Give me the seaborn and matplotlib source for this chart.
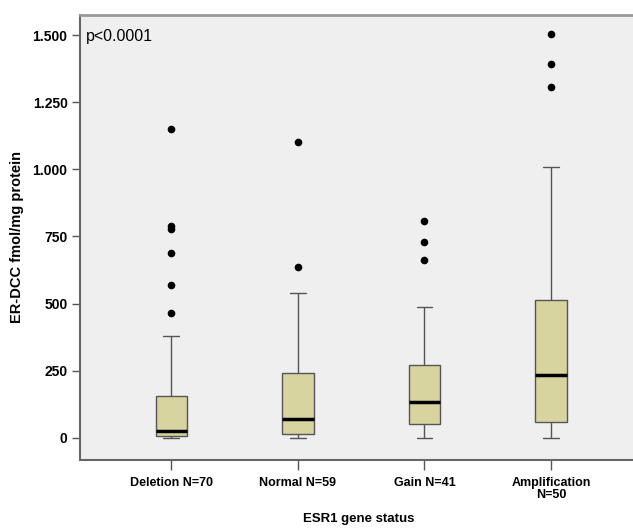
import pandas as pd
import matplotlib.pyplot as plt
import seaborn as sns
from matplotlib.ticker import FuncFormatter

# groups and box summaries (low whisker, Q1, median, Q3, high whisker)
groups = ["Deletion N=70", "Normal N=59", "Gain N=41", "Amplification\nN=50"]
deletion_box = [0, 6, 25, 155, 379]
normal_box = [0, 14, 70, 240, 538]
gain_box = [0, 52, 134, 272, 487]
amplification_box = [0, 60, 234, 513, 1010]

# outliers
deletion_out = [1152, 789, 777, 687, 569, 464]
normal_out = [1102, 635]
gain_out = [809, 728, 662]
amplification_out = [1505, 1394, 1306]

boxes = pd.DataFrame({
    "status": [g for g, b in zip(groups, [deletion_box, normal_box, gain_box, amplification_box]) for _ in b],
    "value": deletion_box + normal_box + gain_box + amplification_box,
})
outs = pd.DataFrame({
    "status": [g for g, o in zip(groups, [deletion_out, normal_out, gain_out, amplification_out]) for _ in o],
    "value": deletion_out + normal_out + gain_out + amplification_out,
})

sns.set_style("white")
plt.rcParams['font.family'] = ['Liberation Sans', 'DejaVu Sans']
plt.rcParams['text.color'] = 'black'
plt.rcParams['axes.labelcolor'] = 'black'
plt.rcParams['xtick.color'] = 'black'
plt.rcParams['ytick.color'] = 'black'

fig = plt.figure(figsize=(6.33, 5.28), dpi=100)
ax = fig.add_axes([0.1264, 0.1288, 0.88, 0.8428])
ax.set_facecolor("#efefef")

sns.boxplot(data=boxes, x="status", y="value", order=groups, whis=(0, 100),
            showfliers=False, width=0.25, color="#d8d4a0", saturation=1,
            linewidth=1, linecolor="#555555",
            medianprops=dict(color="black", linewidth=2.5), ax=ax)
sns.stripplot(data=outs, x="status", y="value", order=groups, jitter=False,
              color="black", size=5.5, ax=ax)

ax.set_xlim(-0.722, 3.68)
ax.set_ylim(-83, 1575)
ax.set_yticks([0, 250, 500, 750, 1000, 1250, 1500])
ax.yaxis.set_major_formatter(FuncFormatter(lambda v, p: f"{int(v):,}".replace(",", ".")))

for lab in ax.get_xticklabels():
    lab.set_fontweight("bold")
    lab.set_fontsize(9)
    lab.set_linespacing(1.0)
for lab in ax.get_yticklabels():
    lab.set_fontweight("bold")
    lab.set_fontsize(10)
ax.tick_params(axis="x", direction="out", length=7, width=1, color="#555555", pad=5)
ax.tick_params(axis="y", direction="out", length=6, width=1, color="#555555", pad=3)
ax.tick_params(left=True, bottom=True)

ax.set_xlabel("ESR1 gene status", fontsize=9.5, fontweight="bold", labelpad=9)
ax.set_ylabel("ER-DCC fmol/mg protein", fontsize=10.5, fontweight="bold", labelpad=6)

ax.spines["right"].set_visible(False)
for s in ["left", "bottom"]:
    ax.spines[s].set_color("#666666")
    ax.spines[s].set_linewidth(1.5)
ax.spines["top"].set_color("#999999")
ax.spines["top"].set_linewidth(2)

ax.text(0.011, 0.968, "p<0.0001", transform=ax.transAxes, fontsize=11.5, va="top", ha="left")

fig.savefig("out.png", dpi=100)
